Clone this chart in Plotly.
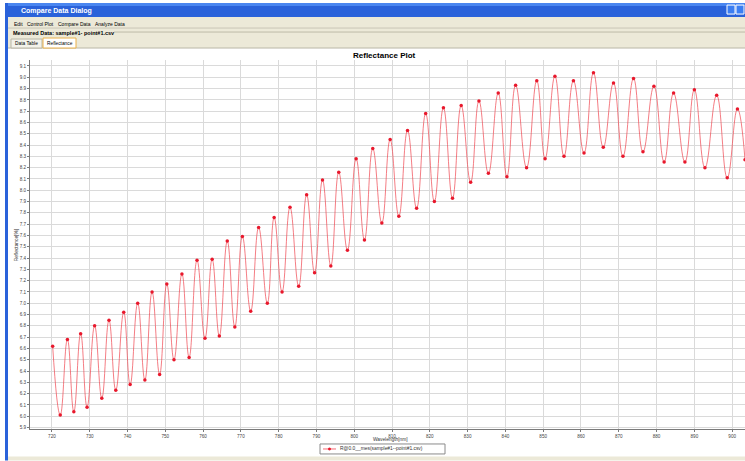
import plotly.graph_objects as go

# ---- data (turning points of the measured curve) ----
wavelength_nm = [720.2, 722.2, 724.1, 725.8, 727.6, 729.3, 731.3, 733.2, 735.1, 736.9,
                 739.0, 740.7, 742.7, 744.6, 746.5, 748.5, 750.4, 752.3, 754.4, 756.3,
                 758.4, 760.5, 762.4, 764.3, 766.4, 768.4, 770.4, 772.6, 774.7, 777.0,
                 778.8, 780.9, 783.0, 785.3, 787.4, 789.5, 791.6, 793.8, 795.9, 798.2,
                 800.5, 802.7, 804.9, 807.3, 809.5, 811.8, 814.1, 816.5, 818.9, 821.2,
                 823.6, 826.0, 828.3, 830.8, 833.0, 835.5, 838.1, 840.4, 842.7, 845.6,
                 848.3, 850.5, 853.1, 855.5, 858.0, 860.8, 863.3, 865.9, 868.6, 871.1,
                 873.9, 876.4, 879.3, 882.0, 884.5, 887.5, 890.0, 892.8, 895.9, 898.7,
                 901.4, 903.4]
reflectance_pct = [6.62, 6.01, 6.68, 6.04, 6.73, 6.08, 6.80, 6.16, 6.85, 6.23,
                   6.92, 6.28, 7.00, 6.32, 7.10, 6.37, 7.17, 6.50, 7.26, 6.52,
                   7.38, 6.69, 7.39, 6.71, 7.55, 6.79, 7.59, 6.93, 7.67, 7.00,
                   7.76, 7.10, 7.85, 7.15, 7.96, 7.27, 8.09, 7.33, 8.16, 7.47,
                   8.28, 7.56, 8.37, 7.71, 8.45, 7.77, 8.53, 7.84, 8.68, 7.90,
                   8.73, 7.93, 8.75, 8.07, 8.79, 8.15, 8.86, 8.12, 8.93, 8.20,
                   8.97, 8.28, 9.01, 8.30, 8.97, 8.33, 9.04, 8.38, 8.95, 8.30,
                   8.99, 8.34, 8.92, 8.25, 8.86, 8.25, 8.89, 8.20, 8.84, 8.11,
                   8.72, 8.27]
x_ticks = [720, 730, 740, 750, 760, 770, 780, 790, 800, 810,
           820, 830, 840, 850, 860, 870, 880, 890, 900]
y_ticks = [round(5.9 + 0.1 * i, 1) for i in range(33)]
series_name = "R@0.0__mes(sample#1--point#1.csv)"

W, H = 745, 461
L, R, T, B = 30, 0, 60, 31.5
PW, PH = W - L - R, H - T - B

def px(x):
    return (x - L) / PW

def py(y):
    return (H - B - y) / PH

FONT = "Liberation Sans, Arial, sans-serif"
RED = "#E8182C"

fig = go.Figure()
fig.add_trace(go.Scatter(
    x=wavelength_nm, y=reflectance_pct, name=series_name,
    mode="lines+markers",
    line=dict(color="rgba(240,70,80,0.7)", width=1, shape="spline", smoothing=1.3),
    marker=dict(color=RED, size=3.5),
    showlegend=False,
))

shapes = []
def rect(x0, y0, x1, y1, fill, line=None, lw=0, layer="below"):
    shapes.append(dict(type="rect", xref="paper", yref="paper",
                       x0=px(x0), x1=px(x1), y0=py(y1), y1=py(y0),
                       fillcolor=fill, line=dict(width=lw, color=line or fill),
                       layer=layer))

def hline(x0, x1, y, color, w=1, layer="below"):
    shapes.append(dict(type="line", xref="paper", yref="paper",
                       x0=px(x0), x1=px(x1), y0=py(y), y1=py(y),
                       line=dict(color=color, width=w), layer=layer))

# window chrome
rect(8, 17, 745, 48, "#ECE9D8")
rect(5, 3, 745, 17, "#2A62DA")
rect(5, 3, 745, 6, "#4A86F0")
rect(5, 3, 8, 461, "#2A62DA")
rect(8, 457, 745, 461, "#ECE9D8")
rect(727, 5, 735, 14, "#3C7EF2", "#FFFFFF", 1)
rect(736, 5, 744, 14, "#3C7EF2", "#FFFFFF", 1)
hline(8, 745, 28, "#C9C6B6")
hline(114, 745, 32, "#BDBAA8")
hline(8, 745, 48, "#B9B6A6")
# tabs
rect(11, 39, 42, 48, "#F3F2EA", "#B9B6A6", 1)
rect(43, 38, 76, 48, "#FFFFFF", "#E9B04A", 1)

# legend box drawn by hand (series line + marker sample)
rect(320, 444.5, 445, 454.5, "#FFFFFF", "#8A8A8A", 1)
hline(323, 336, 449.5, "rgba(240,70,80,0.8)", 1)
shapes.append(dict(type="circle", xref="paper", yref="paper",
                   x0=px(328), x1=px(331), y0=py(451), y1=py(448),
                   fillcolor=RED, line=dict(width=0)))

ann = []
def text(x, y, s, size, color="#000000", bold=False, xanchor="left", angle=0):
    ann.append(dict(xref="paper", yref="paper", x=px(x), y=py(y),
                    text=("<b>%s</b>" % s) if bold else s, showarrow=False,
                    xanchor=xanchor, yanchor="middle", textangle=angle,
                    font=dict(family=FONT, size=size, color=color)))

text(19, 10.5, "Compare Data Dialog", 7, "#FFFFFF", bold=True)
text(12, 23.5, "Edit", 5)
text(25, 23.5, "Control Plot", 5)
text(56, 23.5, "Compare Data", 5)
text(93, 23.5, "Analyze Data", 5)
text(11, 32.5, "Measured Data: sample#1- point#1.csv", 5.5, bold=True)
text(26.5, 43.5, "Data Table", 4.8, xanchor="center")
text(59.5, 43.5, "Reflectance", 4.8, xanchor="center")
text(384, 55, "Reflectance Plot", 8, bold=True, xanchor="center")
text(390, 440.5, "Wavelength[nm]", 4.8, "#333333", xanchor="center")
text(16.5, 246, "Reflectance[%]", 4.8, "#333333", xanchor="center", angle=-90)
text(338, 449.5, series_name, 4.9, "#333333")

axis_common = dict(showgrid=True, gridcolor="#DADADA", gridwidth=1,
                   showline=True, linecolor="#7A7A7A", linewidth=1,
                   ticks="outside", ticklen=2, tickcolor="#7A7A7A",
                   tickfont=dict(family=FONT, size=4.6, color="#444444"),
                   zeroline=False, automargin=False)

fig.update_layout(
    width=W, height=H,
    margin=dict(l=L, r=R, t=T, b=B, autoexpand=False),
    paper_bgcolor="#FFFFFF", plot_bgcolor="#FFFFFF",
    xaxis=dict(range=[714.2, 903.4], tickvals=x_ticks, **axis_common),
    yaxis=dict(range=[5.887, 9.153], tickvals=y_ticks, tickformat=".1f", **axis_common),
    shapes=shapes, annotations=ann,
    showlegend=False,
)

fig.write_html("out.html")
